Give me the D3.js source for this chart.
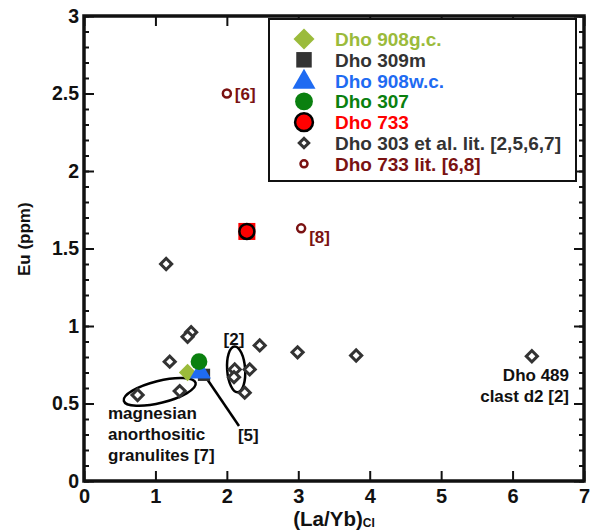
<!DOCTYPE html>
<html>
<head>
<meta charset="utf-8">
<script src="https://cdn.jsdelivr.net/npm/d3@7"></script>
<style>
  body { margin: 0; background: #fff; }
  text { font-family: "Liberation Sans", Arial, sans-serif; font-weight: bold; }
</style>
</head>
<body>
<div id="chart"></div>
<script>
// literature data, Dho 303 et al. [2,5,6,7]
const litX = [1.15, 1.50, 1.45, 2.46, 2.99, 3.81, 6.27, 1.20, 2.11, 2.32, 2.10, 2.25, 0.75, 1.34];
const litY = [1.40, 0.96, 0.93, 0.875, 0.83, 0.81, 0.805, 0.77, 0.72, 0.72, 0.67, 0.57, 0.555, 0.58];

// Dho 733 literature [6,8]
const lit733X = [2.00, 3.04];
const lit733Y = [2.50, 1.63];
const lit733Labels = ["[6]", "[8]"];

// this work
const sampleNames = ["Dho 908g.c.", "Dho 309m", "Dho 908w.c.", "Dho 307", "Dho 733"];
const sampleX = [1.45, 1.68, 1.63, 1.61, 2.28];
const sampleY = [0.70, 0.685, 0.70, 0.77, 1.61];
const sampleColors = ["#9bbb3b", "#333333", "#1f6bf2", "#0a800f", "#ff0000"];
const sampleShapes = ["diamond", "square", "triangle", "circle", "circle"];

const legendNames = ["Dho 908g.c.", "Dho 309m", "Dho 908w.c.", "Dho 307", "Dho 733",
  "Dho 303 et al. lit. [2,5,6,7]", "Dho 733 lit. [6,8]"];
const legendColors = ["#9bbb3b", "#333333", "#1f6bf2", "#0a800f", "#ff0000", "#333333", "#7a1212"];

const xTicks = [0, 1, 2, 3, 4, 5, 6, 7];
const yTicks = [0, 0.5, 1, 1.5, 2, 2.5, 3];

const width = 591, height = 531;
const margin = {left: 84, right: 7, top: 16, bottom: 50};

const svg = d3.select("#chart").append("svg")
    .attr("width", width)
    .attr("height", height);

const x = d3.scaleLinear().domain([0, 7]).range([margin.left, width - margin.right]);
const y = d3.scaleLinear().domain([0, 3]).range([height - margin.bottom, margin.top]);

// axes, ticks inward
const minorY = d3.range(0, 3.001, 0.1);
svg.append("g").attr("transform", `translate(0,${y(0)})`)
    .call(d3.axisBottom(x).tickValues(xTicks).tickSizeInner(-10).tickSizeOuter(0).tickPadding(8).tickFormat(d3.format("d")))
    .call(g => g.selectAll("text").style("font-size", "20px").attr("fill", "#111"));
svg.append("g").attr("transform", `translate(0,${y(3)})`)
    .call(d3.axisTop(x).tickValues(xTicks).tickSizeInner(-10).tickSizeOuter(0).tickFormat(""));
svg.append("g").attr("transform", `translate(${x(0)},0)`)
    .call(d3.axisLeft(y).tickValues(minorY).tickSizeInner(-5).tickSizeOuter(0).tickFormat(""));
svg.append("g").attr("transform", `translate(${x(0)},0)`)
    .call(d3.axisLeft(y).tickValues(yTicks).tickSizeInner(-10).tickSizeOuter(0).tickPadding(5).tickFormat(d3.format("")))
    .call(g => g.selectAll("text").style("font-size", "19.5px").attr("fill", "#111"));
svg.append("g").attr("transform", `translate(${x(7)},0)`)
    .call(d3.axisRight(y).tickValues(minorY).tickSizeInner(-5).tickSizeOuter(0).tickFormat(""));
svg.append("g").attr("transform", `translate(${x(7)},0)`)
    .call(d3.axisRight(y).tickValues(yTicks).tickSizeInner(-10).tickSizeOuter(0).tickFormat(""));
svg.selectAll(".domain").remove();
svg.selectAll(".tick line").attr("stroke", "#111").attr("stroke-width", 2);

svg.append("rect")
    .attr("x", x(0)).attr("y", y(3))
    .attr("width", x(7) - x(0)).attr("height", y(0) - y(3))
    .attr("fill", "none").attr("stroke", "#111").attr("stroke-width", 3.5);

// axis titles
const xt = svg.append("text")
    .attr("x", x(3.5)).attr("y", 526)
    .attr("text-anchor", "middle")
    .style("font-size", "20.5px").attr("fill", "#111")
    .text("(La/Yb)");
xt.append("tspan").attr("dy", 1).style("font-size", "12px").text("CI");

svg.append("text")
    .attr("transform", `translate(30,${y(1.56)}) rotate(-90)`)
    .attr("text-anchor", "middle")
    .style("font-size", "17px").attr("fill", "#111")
    .text("Eu (ppm)");

// annotations: ellipses and lines
const ann = svg.append("g").attr("fill", "none").attr("stroke", "#000").attr("stroke-width", 2.5);
ann.append("ellipse")
    .attr("transform", `translate(${x(1.06)},${y(0.575)}) rotate(-14)`)
    .attr("rx", 37).attr("ry", 11);
ann.append("ellipse")
    .attr("transform", `translate(${x(2.13)},${y(0.72)}) rotate(-4)`)
    .attr("rx", 9).attr("ry", 23);
ann.append("line")
    .attr("x1", x(1.72)).attr("y1", y(0.66))
    .attr("x2", x(2.17)).attr("y2", y(0.355));

const notes = svg.append("g").attr("fill", "#111").style("font-size", "17px");
notes.append("text").attr("x", x(2.1)).attr("y", y(0.88)).attr("text-anchor", "middle").text("[2]");
notes.append("text").attr("x", x(2.3)).attr("y", y(0.26)).attr("text-anchor", "middle").text("[5]");
["magnesian", "anorthositic", "granulites [7]"].forEach((t, i) => {
  notes.append("text").attr("x", 108).attr("y", 419 + i * 21).text(t);
});
["Dho 489", "clast d2 [2]"].forEach((t, i) => {
  notes.append("text").attr("x", 569).attr("y", 381 + i * 21).attr("text-anchor", "end").text(t);
});

// literature diamonds
svg.append("g").selectAll("path")
    .data(litX.map((d, i) => [d, litY[i]]))
    .join("path")
    .attr("d", d3.symbol(d3.symbolSquare, 62)())
    .attr("transform", d => `translate(${x(d[0])},${y(d[1])}) rotate(45)`)
    .attr("fill", "#fff").attr("stroke", "#333").attr("stroke-width", 3);

// Dho 733 lit. circles
svg.append("g").selectAll("circle")
    .data(lit733X.map((d, i) => [d, lit733Y[i]]))
    .join("circle")
    .attr("cx", d => x(d[0])).attr("cy", d => y(d[1])).attr("r", 4)
    .attr("fill", "#fff").attr("stroke", "#7a1212").attr("stroke-width", 2.5);
svg.append("g").selectAll("text")
    .data(lit733Labels)
    .join("text")
    .attr("x", (d, i) => x(lit733X[i]) + 8)
    .attr("y", (d, i) => y(lit733Y[i]) + (i === 0 ? 6 : 15))
    .style("font-size", "17px").attr("fill", "#7a1212")
    .text(d => d);

// sample markers
function shapePath(shape, big) {
  if (shape === "diamond") return d3.symbol(d3.symbolSquare, big ? 220 : 150)();
  if (shape === "square") return d3.symbol(d3.symbolSquare, big ? 240 : 150)();
  if (shape === "triangle") return d3.symbol(d3.symbolTriangle, big ? 230 : 190)();
  return d3.symbol(d3.symbolCircle, big ? 250 : 220)();
}
const drawOrder = [1, 0, 2, 3];
drawOrder.forEach(i => {
  svg.append("path")
      .attr("d", shapePath(sampleShapes[i]))
      .attr("transform", `translate(${x(sampleX[i])},${y(sampleY[i])})` + (sampleShapes[i] === "diamond" ? " rotate(45)" : ""))
      .attr("fill", sampleColors[i]);
});

// Dho 733 with error bars
const ex = x(sampleX[4]), ey = y(sampleY[4]);
svg.append("rect").attr("x", ex - 8.5).attr("y", ey - 8.5).attr("width", 17).attr("height", 17)
    .attr("fill", "#ff0000");
svg.append("circle").attr("cx", ex).attr("cy", ey).attr("r", 7.5)
    .attr("fill", "#ff0000").attr("stroke", "#000").attr("stroke-width", 2.5);

// legend
const lg = svg.append("g");
lg.append("rect").attr("x", 269).attr("y", 19).attr("width", 307).attr("height", 162)
    .attr("fill", "#fff").attr("stroke", "#111").attr("stroke-width", 2);
legendNames.forEach((name, i) => {
  const cy = 39 + i * 20.8;
  const g = lg.append("g").attr("transform", `translate(304,${cy})`);
  if (i < 5) {
    const shape = sampleShapes[i];
    const p = g.append("path")
        .attr("d", shapePath(shape, true))
        .attr("fill", legendColors[i]);
    if (shape === "diamond") p.attr("transform", "rotate(45)");
    if (shape === "triangle") p.attr("transform", "translate(0,1.5)");
    if (i === 4) p.attr("stroke", "#000").attr("stroke-width", 2.5);
  } else if (i === 5) {
    g.append("path").attr("d", d3.symbol(d3.symbolSquare, 45)()).attr("transform", "rotate(45)")
        .attr("fill", "#fff").attr("stroke", "#333").attr("stroke-width", 3);
  } else {
    g.append("circle").attr("r", 3.5).attr("fill", "#fff").attr("stroke", "#7a1212").attr("stroke-width", 2.5);
  }
  lg.append("text").attr("x", 335).attr("y", cy + 7)
      .style("font-size", "19px").attr("fill", legendColors[i])
      .text(name);
});
</script>
</body>
</html>
